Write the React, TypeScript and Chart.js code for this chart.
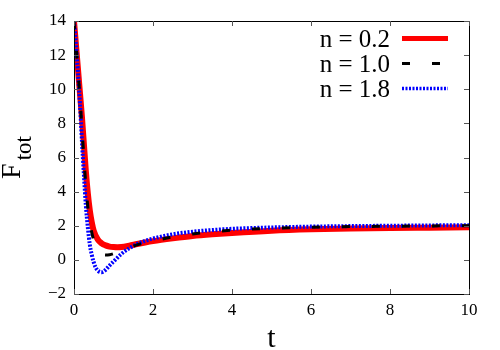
import React, { useEffect, useRef } from "react";
import { Chart, registerables } from "chart.js";

Chart.register(...registerables);

const tRed = [0, 0.05, 0.1, 0.15, 0.2, 0.25, 0.3, 0.35, 0.4, 0.45, 0.5, 0.6, 0.7, 0.8, 0.9, 1.0, 1.1, 1.2, 1.4, 1.6, 1.8, 2.0, 2.5, 3.0, 3.5, 4.0, 5.0, 6.0, 7.0, 8.0, 9.0, 10];
const fRed = [14, 12.6, 11.2, 9.8, 8.4, 6.8, 5.2, 3.9, 2.9, 2.2, 1.7, 1.2, 0.97, 0.85, 0.78, 0.75, 0.74, 0.75, 0.83, 0.93, 1.02, 1.1, 1.26, 1.4, 1.5, 1.58, 1.71, 1.79, 1.84, 1.87, 1.89, 1.91];

const tBlack = [0, 0.05, 0.1, 0.15, 0.2, 0.25, 0.3, 0.35, 0.4, 0.45, 0.5, 0.6, 0.7, 0.8, 0.9, 1.0, 1.2, 1.4, 1.6, 1.8, 2.0, 2.5, 3.0, 3.5, 4.0, 5.0, 6.0, 7.0, 8.0, 9.0, 10];
const fBlack = [14, 12.6, 11.1, 9.5, 7.8, 6.0, 4.4, 3.1, 2.2, 1.6, 1.15, 0.6, 0.35, 0.28, 0.3, 0.36, 0.55, 0.72, 0.88, 1.0, 1.1, 1.35, 1.52, 1.65, 1.74, 1.85, 1.91, 1.95, 1.97, 1.99, 2.0];

const tBlue = [0, 0.05, 0.1, 0.15, 0.2, 0.25, 0.3, 0.35, 0.4, 0.45, 0.5, 0.55, 0.6, 0.65, 0.7, 0.75, 0.8, 0.9, 1.0, 1.2, 1.4, 1.6, 1.8, 2.0, 2.5, 3.0, 3.5, 4.0, 5.0, 6.0, 7.0, 8.0, 9.0, 10];
const fBlue = [14, 12.6, 11.0, 9.2, 7.0, 5.0, 3.2, 1.9, 0.9, 0.3, -0.15, -0.45, -0.62, -0.7, -0.72, -0.68, -0.58, -0.33, -0.1, 0.35, 0.68, 0.93, 1.11, 1.25, 1.5, 1.65, 1.75, 1.82, 1.9, 1.95, 1.98, 2.0, 2.02, 2.03];

const seriesLabels = ["n = 0.2", "n = 1.0", "n = 1.8"];
const xTicks = [0, 2, 4, 6, 8, 10];
const yTicks = [-2, 0, 2, 4, 6, 8, 10, 12, 14];

const SERIF = '"Liberation Serif", "Times New Roman", Times, serif';

const framePlugin = {
  id: "frameAndLegend",
  afterDraw(chart: any) {
    const { ctx, chartArea } = chart;
    const { left, right, top, bottom } = chartArea;
    const xs = chart.scales.x;
    const ys = chart.scales.y;
    ctx.save();
    ctx.strokeStyle = "#000";
    ctx.lineWidth = 1;
    ctx.strokeRect(Math.round(left) + 0.5, Math.round(top) + 0.5, Math.round(right - left), Math.round(bottom - top));
    ctx.strokeStyle = "#555";
    const tl = 5;
    ctx.beginPath();
    xTicks.forEach((v) => {
      const px = Math.round(xs.getPixelForValue(v)) + 0.5;
      ctx.moveTo(px, bottom);
      ctx.lineTo(px, bottom - tl);
      ctx.moveTo(px, top);
      ctx.lineTo(px, top + tl);
    });
    yTicks.forEach((v) => {
      const py = Math.round(ys.getPixelForValue(v)) + 0.5;
      ctx.moveTo(left, py);
      ctx.lineTo(left + tl, py);
      ctx.moveTo(right, py);
      ctx.lineTo(right - tl, py);
    });
    ctx.stroke();

    ctx.fillStyle = "#000";
    ctx.font = `30px ${SERIF}`;
    ctx.textAlign = "center";
    ctx.textBaseline = "alphabetic";
    ctx.fillText("t", (left + right) / 2, 347);

    ctx.save();
    const cy = (top + bottom) / 2;
    ctx.translate(20, cy);
    ctx.rotate(-Math.PI / 2);
    ctx.textAlign = "left";
    ctx.font = `28px ${SERIF}`;
    const wF = ctx.measureText("F").width;
    ctx.font = `23px ${SERIF}`;
    const wSub = ctx.measureText("tot").width;
    const total = wF + 3 + wSub;
    const x0 = -total / 2;
    ctx.font = `28px ${SERIF}`;
    ctx.fillText("F", x0, 0);
    ctx.font = `23px ${SERIF}`;
    ctx.fillText("tot", x0 + wF + 3, 11);
    ctx.restore();

    const styles = [
      { color: "#ff0000", width: 5, dash: [] as number[] },
      { color: "#000000", width: 3, dash: [8, 22] },
      { color: "#0000ff", width: 3.5, dash: [2, 1.5] },
    ];
    const baselines = [47, 72, 97];
    ctx.font = `25px ${SERIF}`;
    ctx.textAlign = "right";
    ctx.fillStyle = "#000";
    seriesLabels.forEach((lab, i) => {
      ctx.fillText(lab, 390, baselines[i]);
      const ly = baselines[i] - 8.5;
      ctx.beginPath();
      ctx.strokeStyle = styles[i].color;
      ctx.lineWidth = styles[i].width;
      ctx.setLineDash(styles[i].dash);
      ctx.lineCap = "butt";
      ctx.moveTo(402, ly);
      ctx.lineTo(448, ly);
      ctx.stroke();
    });
    ctx.setLineDash([]);
    ctx.restore();
  },
};

export default function App() {
  const ref = useRef<HTMLCanvasElement | null>(null);
  useEffect(() => {
    document.body.style.margin = "0";
    const canvas = ref.current;
    if (!canvas) return;
    const mk = (ts: number[], fs: number[]) => ts.map((t, i) => ({ x: t, y: fs[i] }));
    const chart = new Chart(canvas, {
      type: "line",
      data: {
        datasets: [
          {
            label: seriesLabels[0],
            data: mk(tRed, fRed),
            borderColor: "#ff0000",
            borderWidth: 6,
            pointRadius: 0,
            cubicInterpolationMode: "monotone",
            order: 3,
          },
          {
            label: seriesLabels[1],
            data: mk(tBlack, fBlack),
            borderColor: "#000000",
            borderWidth: 3,
            borderDash: [8, 22],
            pointRadius: 0,
            cubicInterpolationMode: "monotone",
            order: 1,
          },
          {
            label: seriesLabels[2],
            data: mk(tBlue, fBlue),
            borderColor: "#0000ff",
            borderWidth: 4,
            borderDash: [2, 1.5],
            pointRadius: 0,
            cubicInterpolationMode: "monotone",
            order: 2,
          },
        ],
      },
      options: {
        animation: false,
        responsive: false,
        layout: { padding: { left: 0, right: 31, top: 21, bottom: 0 } },
        plugins: { legend: { display: false }, tooltip: { enabled: false } },
        scales: {
          x: {
            type: "linear",
            min: 0,
            max: 10,
            afterFit: (s: any) => {
              s.height = 56;
            },
            afterBuildTicks: (s: any) => {
              s.ticks = xTicks.map((v) => ({ value: v }));
            },
            grid: { display: false, drawTicks: false },
            border: { display: false },
            ticks: {
              color: "#000",
              padding: 6,
              maxRotation: 0,
              font: { family: SERIF, size: 17 },
              callback: (v: any) => String(v).replace("-", "\u2212"),
            },
          },
          y: {
            type: "linear",
            min: -2,
            max: 14,
            afterFit: (s: any) => {
              s.width = 74;
            },
            afterBuildTicks: (s: any) => {
              s.ticks = yTicks.map((v) => ({ value: v }));
            },
            grid: { display: false, drawTicks: false },
            border: { display: false },
            ticks: {
              color: "#000",
              padding: 8,
              font: { family: SERIF, size: 17 },
              callback: (v: any) => String(v).replace("-", "\u2212"),
            },
          },
        },
      },
      plugins: [framePlugin],
    } as any);
    return () => chart.destroy();
  }, []);
  return <canvas ref={ref} width={500} height={350} style={{ display: "block" }} />;
}
